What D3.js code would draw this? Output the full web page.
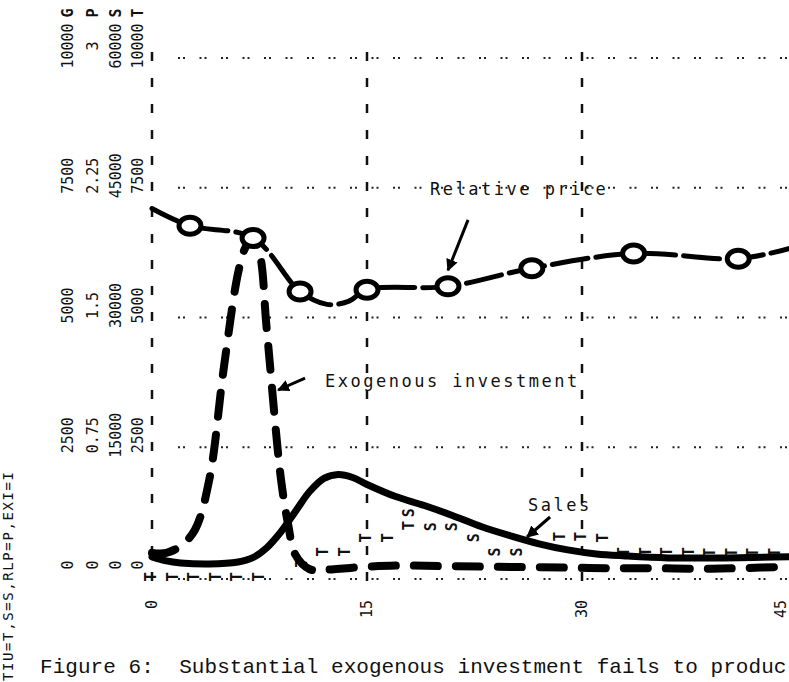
<!DOCTYPE html>
<html>
<head>
<meta charset="utf-8">
<script src="https://cdn.jsdelivr.net/npm/d3@7"></script>
<style>
  body { margin: 0; background: #fff; }
  svg { display: block; }
  .mono { font-family: 'DejaVu Sans Mono', monospace; fill: #111; }
</style>
</head>
<body>
<svg width="789" height="682"></svg>
<script>
// scale columns printed at the left (one column per letter)
const scaleLetters = ['G', 'P', 'S', 'T'];
const gridValues = [0, 2500, 5000, 7500, 10000];
const labelsG = ['0', '2500', '5000', '7500', '10000'];
const labelsP = ['0', '0.75', '1.5', '2.25', '3'];
const labelsS = ['0', '15000', '30000', '45000', '60000'];
const labelsT = ['0', '2500', '5000', '7500', '10000'];
const timeTicks = [0, 15, 30, 45];

// relative price (P scale, 0..3)
const priceTime  = [0, 2.65, 7.05, 10.33, 12.2, 13.7, 15, 20.65, 26.5, 33.6, 40.9, 44.5];
const priceValue = [2.13, 2.03, 1.96, 1.65, 1.576, 1.593, 1.66, 1.68, 1.785, 1.87, 1.84, 1.9];
const priceCircle = [0, 1, 1, 1, 0, 0, 1, 1, 1, 1, 1, 0];

// exogenous investment (G/T scale, 0..10000)
const investTime  = [0, 1, 2, 3, 4, 5, 6, 6.5, 7, 7.5, 8, 9, 9.5, 10, 11, 12, 14, 17, 20, 23, 26, 29, 32, 35, 38, 41, 44.5];
const investValue = [465, 465, 600, 910, 1880, 4010, 5850, 6340, 6530, 6240, 4790, 1880, 1010, 430, 150, 140, 180, 220, 210, 200, 190, 180, 170, 170, 160, 170, 200];

// sales (S scale, 0..60000)
const salesTime  = [0, 1, 2, 4, 6, 7, 8, 9, 10, 11, 12, 13, 14, 15, 17, 19, 21, 23, 25, 27, 29, 31, 33, 36, 40, 44.5];
const salesValue = [2330, 1860, 1630, 1510, 1740, 2210, 3370, 5230, 7560, 9880, 11400, 11860, 11510, 10700, 9300, 8260, 7090, 5810, 4770, 3840, 3140, 2670, 2440, 2210, 2210, 2330];

// printed 'T' characters (TIU, T scale)
const tiuTime  = [0, 1.5, 3, 4.5, 6, 7.5, 10.5, 12, 13.5, 15, 16.5, 18, 28.5, 30, 31.5, 33, 34.5, 36, 37.5, 39, 40.5, 42, 43.5];
const tiuValue = [0, 0, 0, 0, 0, 0, 270, 485, 485, 755, 755, 990, 775, 775, 755, 485, 485, 485, 485, 470, 470, 470, 470];

// printed 'S' characters left visible beside the drawn sales curve
const sTime  = [18, 19.5, 21, 22.5, 24, 25.5];
const sValue = [7440, 5810, 5810, 4540, 2900, 2900];

const svg = d3.select('svg');
const width = +svg.attr('width');
const height = +svg.attr('height');

const x = d3.scaleLinear().domain([0, 45]).range([152, 797]);
const yG = d3.scaleLinear().domain([0, 10000]).range([577, 58]);
const yP = d3.scaleLinear().domain([0, 3]).range([577, 58]);
const yS = d3.scaleLinear().domain([0, 60000]).range([577, 58]);

const gridG = svg.append('g');

// horizontal dotted grid
gridG.selectAll('line.h').data(gridValues)
  .enter().append('line')
    .attr('x1', x(0) + 26)
    .attr('x2', width)
    .attr('y1', d => yG(d) + (d === 0 ? 2 : 0))
    .attr('y2', d => yG(d) + (d === 0 ? 2 : 0))
    .attr('stroke', '#222')
    .attr('stroke-width', 2)
    .attr('stroke-dasharray', '2,3,2,14.5');

// vertical dashed grid
gridG.selectAll('line.v').data(timeTicks)
  .enter().append('line')
    .attr('x1', d => x(d))
    .attr('x2', d => x(d))
    .attr('y1', 52)
    .attr('y2', 592)
    .attr('stroke', '#111')
    .attr('stroke-width', 2.5)
    .attr('stroke-dasharray', '9,17');

// rotated scale labels
const colX = [73, 98, 121, 143];
const allLabels = [labelsG, labelsP, labelsS, labelsT];
allLabels.forEach((labels, c) => {
  svg.append('g').selectAll('text').data(gridValues)
    .enter().append('text')
      .attr('class', 'mono')
      .attr('font-size', 15)
      .attr('text-anchor', 'middle')
      .attr('transform', (d) => `translate(${colX[c]},${yG(d) - 12}) rotate(-90)`)
      .text((d, i) => labels[i]);
});

svg.append('g').selectAll('text').data(scaleLetters)
  .enter().append('text')
    .attr('class', 'mono')
    .attr('font-size', 15)
    .attr('font-weight', 'bold')
    .attr('text-anchor', 'middle')
    .attr('transform', (d, i) => `translate(${colX[i]},13) rotate(-90)`)
    .text(d => d);

// time labels (kept inside the frame)
svg.append('g').selectAll('text').data(timeTicks)
  .enter().append('text')
    .attr('class', 'mono')
    .attr('font-size', 15)
    .attr('text-anchor', 'end')
    .attr('transform', d => `translate(${Math.min(x(d) + 5, width - 3)},600) rotate(-90)`)
    .text(d => d);

// printed T characters
svg.append('g').selectAll('text').data(tiuTime)
  .enter().append('text')
    .attr('class', 'mono')
    .attr('font-size', 16)
    .attr('font-weight', 'bold')
    .attr('text-anchor', 'middle')
    .attr('transform', (d, i) => `translate(${x(d) + 4},${yG(tiuValue[i])}) rotate(-90)`)
    .text('T');

// printed S characters
svg.append('g').selectAll('text').data(sTime)
  .enter().append('text')
    .attr('class', 'mono')
    .attr('font-size', 15)
    .attr('font-weight', 'bold')
    .attr('text-anchor', 'middle')
    .attr('transform', (d, i) => `translate(${x(d) + 4},${yS(sValue[i])}) rotate(-90)`)
    .text('S');

// exogenous investment
const investLine = d3.line()
  .x((d, i) => x(investTime[i]))
  .y(d => yG(d))
  .curve(d3.curveCatmullRom);
svg.append('path')
  .attr('d', investLine(investValue))
  .attr('fill', 'none')
  .attr('stroke', '#000')
  .attr('stroke-width', 8)
  .attr('stroke-linecap', 'round')
  .attr('stroke-dasharray', '24,18');

// sales
const salesLine = d3.line()
  .x((d, i) => x(salesTime[i]))
  .y(d => yS(d))
  .curve(d3.curveCatmullRom);
svg.append('path')
  .attr('d', salesLine(salesValue))
  .attr('fill', 'none')
  .attr('stroke', '#000')
  .attr('stroke-width', 7)
  .attr('stroke-linecap', 'round');

// relative price
const priceLine = d3.line()
  .x((d, i) => x(priceTime[i]))
  .y(d => yP(d))
  .curve(d3.curveCatmullRom);
svg.append('path')
  .attr('d', priceLine(priceValue))
  .attr('fill', 'none')
  .attr('stroke', '#000')
  .attr('stroke-width', 5)
  .attr('stroke-linecap', 'round')
  .attr('stroke-dasharray', '36,8');

const circleTime = priceTime.filter((t, j) => priceCircle[j]);
svg.append('g').selectAll('ellipse')
  .data(priceValue.filter((d, i) => priceCircle[i]))
  .enter().append('ellipse')
    .attr('cx', (d, i) => x(circleTime[i]))
    .attr('cy', d => yP(d))
    .attr('rx', 11)
    .attr('ry', 8.5)
    .attr('fill', '#fff')
    .attr('stroke', '#000')
    .attr('stroke-width', 5);

// annotations
svg.append('defs').append('marker')
    .attr('id', 'head')
    .attr('viewBox', '0 0 10 10')
    .attr('refX', 9).attr('refY', 5)
    .attr('markerWidth', 4).attr('markerHeight', 4)
    .attr('orient', 'auto')
  .append('path')
    .attr('d', 'M0,0L10,5L0,10z')
    .attr('fill', '#000');

const notes = [
  { text: 'Relative price', tx: x(19.4), ty: yP(2.208), x1: x(22.05), y1: yP(2.064), x2: x(20.65), y2: yP(1.773) },
  { text: 'Exogenous investment', tx: x(12.07), ty: yG(3660), x1: x(10.68), y1: yG(3834), x2: x(8.8), y2: yG(3603) },
  { text: 'Sales', tx: x(26.24), ty: yS(7630), x1: x(27.77), y1: yS(6936), x2: x(26.17), y2: yS(4624) }
];

svg.append('g').selectAll('text').data(notes)
  .enter().append('text')
    .attr('class', 'mono')
    .attr('font-size', 17)
    .attr('letter-spacing', 2.5)
    .attr('x', d => d.tx)
    .attr('y', d => d.ty)
    .text(d => d.text);

svg.append('g').selectAll('line').data(notes)
  .enter().append('line')
    .attr('x1', d => d.x1).attr('y1', d => d.y1)
    .attr('x2', d => d.x2).attr('y2', d => d.y2)
    .attr('stroke', '#000')
    .attr('stroke-width', 3)
    .attr('marker-end', 'url(#head)');

// legend printed up the left edge
svg.append('text')
  .attr('class', 'mono')
  .attr('font-size', 14)
  .attr('letter-spacing', 1.6)
  .attr('transform', 'translate(13,681) rotate(-90)')
  .text('TIU=T,S=S,RLP=P,EXI=I');

// caption (the scan cuts it at the right edge)
svg.append('text')
  .attr('x', 40)
  .attr('y', 673)
  .attr('font-family', "'Liberation Mono', monospace")
  .attr('font-size', 21)
  .attr('letter-spacing', 0.05)
  .attr('fill', '#111')
  .style('white-space', 'pre')
  .text('Figure 6:  Substantial exogenous investment fails to produc');
</script>
</body>
</html>
